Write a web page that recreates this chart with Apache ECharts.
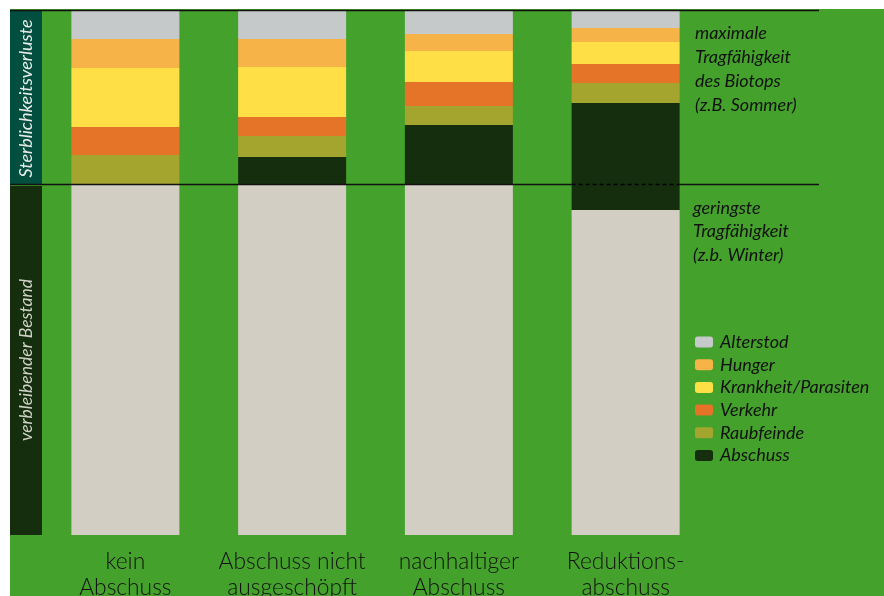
<!DOCTYPE html>
<html><head><meta charset="utf-8">
<script src="https://cdn.jsdelivr.net/npm/echarts@6/dist/echarts.min.js"></script>
<style>html,body{margin:0;padding:0;background:#fff}#c{width:884px;height:596px}</style>
</head><body><div id="c"></div>
<script>
const categories = ['kein\nAbschuss', 'Abschuss nicht\nausgeschöpft', 'nachhaltiger\nAbschuss', 'Reduktions-\nabschuss'];
const bestand    = [351, 351, 351, 325];
const abschuss   = [0, 27, 59, 107];
const raubfeinde = [29, 21, 19, 20];
const verkehr    = [28, 19, 24, 19];
const krankheit  = [59, 50, 31, 22];
const hunger     = [29, 28, 17, 14];
const alterstod  = [28, 28, 23, 17];
const maxTotal = 524;
const summerLine = 351;

const chart = echarts.init(document.getElementById('c'), null, {renderer: 'canvas'});
const FONT = 'Lato, "Open Sans", sans-serif';
function s(name, data, color) {
  return {name, type: 'bar', stack: 'a', data, barWidth: 108, itemStyle: {color}, z: 3};
}
chart.setOption({
  animation: false,
  backgroundColor: '#ffffff',
  grid: {left: 42, top: 11, width: 667, height: 524, outerBoundsMode: 'none', containLabel: false},
  xAxis: {type: 'category', data: categories, axisLine: {show: false}, axisTick: {show: false},
    axisLabel: {interval: 0, margin: 14, fontSize: 22.8, lineHeight: 26, color: '#111', fontFamily: FONT, fontWeight: 300}},
  yAxis: {type: 'value', min: 0, max: maxTotal, show: false, splitLine: {show: false}},
  legend: {orient: 'vertical', left: 695, top: 333, padding: 0, itemWidth: 18, itemHeight: 11, itemGap: 4.7,
    data: ['Alterstod', 'Hunger', 'Krankheit/Parasiten', 'Verkehr', 'Raubfeinde', 'Abschuss'],
    textStyle: {fontSize: 18, lineHeight: 18, fontStyle: 'italic', color: '#111', fontFamily: FONT, padding: [0, 0, 0, 2]}, itemStyle: {borderWidth: 0}},
  series: [
    s('verbleibender Bestand', bestand, '#d2cec3'),
    s('Abschuss', abschuss, '#152f0e'),
    s('Raubfeinde', raubfeinde, '#a4a52f'),
    s('Verkehr', verkehr, '#e57428'),
    s('Krankheit/Parasiten', krankheit, '#ffdf45'),
    s('Hunger', hunger, '#f6b347'),
    s('Alterstod', alterstod, '#c6c9c9')
  ]
});

const yTop = chart.convertToPixel({yAxisIndex: 0}, maxTotal);
const yMid = chart.convertToPixel({yAxisIndex: 0}, summerLine);
const yBot = chart.convertToPixel({yAxisIndex: 0}, 0);
const x4 = chart.convertToPixel({xAxisIndex: 0}, 3);
const gl = 42;
const lineEnd = 819;
chart.setOption({
  graphic: [
    {type: 'rect', z: -10, silent: true, shape: {x: 10, y: 9, width: 874, height: 587}, style: {fill: '#44a12c'}},
    {type: 'rect', z: 1, shape: {x: 10, y: yTop - 1, width: gl - 10, height: yMid - yTop + 1}, style: {fill: '#024f40'}},
    {type: 'rect', z: 1, shape: {x: 10, y: yMid + 2, width: gl - 10, height: yBot - yMid - 2}, style: {fill: '#152f0e'}},
    {type: 'text', z: 5, x: 26, y: (yTop + yMid) / 2 + 1, rotation: Math.PI / 2,
      style: {text: 'Sterblichkeitsverluste', fill: '#e8ece8', font: 'italic 18px ' + FONT, align: 'center', verticalAlign: 'middle'}},
    {type: 'text', z: 5, x: 26, y: 360, rotation: Math.PI / 2,
      style: {text: 'verbleibender Bestand', fill: '#cfd2c6', font: 'italic 17.5px ' + FONT, align: 'center', verticalAlign: 'middle'}},
    {type: 'line', z: 10, shape: {x1: 10, y1: yTop - 0.5, x2: lineEnd, y2: yTop - 0.5}, style: {stroke: '#111', lineWidth: 1.5}},
    {type: 'line', z: 10, shape: {x1: 10, y1: yMid + 0.5, x2: x4 - 54, y2: yMid + 0.5}, style: {stroke: '#111', lineWidth: 1.5}},
    {type: 'line', z: 10, shape: {x1: x4 - 54, y1: yMid + 0.5, x2: x4 + 54, y2: yMid + 0.5}, style: {stroke: '#000', lineWidth: 1.5, lineDash: [4, 3]}},
    {type: 'line', z: 10, shape: {x1: x4 + 54, y1: yMid + 0.5, x2: lineEnd, y2: yMid + 0.5}, style: {stroke: '#111', lineWidth: 1.5}},
    {type: 'text', z: 5, x: 695, y: 21,
      style: {text: 'maximale\nTragfähigkeit\ndes Biotops\n(z.B. Sommer)', fill: '#111', font: 'italic 18px ' + FONT, lineHeight: 24}},
    {type: 'text', z: 5, x: 693, y: 196,
      style: {text: 'geringste\nTragfähigkeit\n(z.b. Winter)', fill: '#111', font: 'italic 18px ' + FONT, lineHeight: 23.7}}
  ]
});
</script></body></html>
